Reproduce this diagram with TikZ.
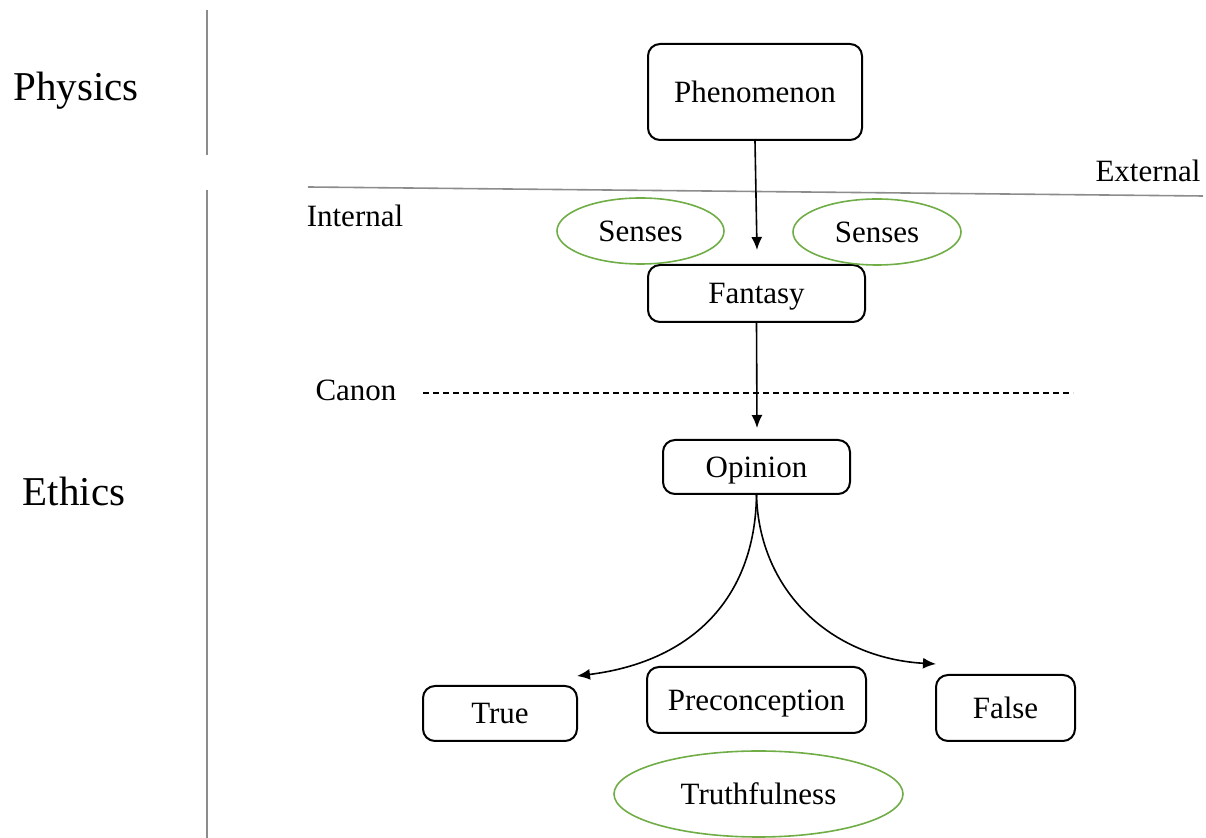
\documentclass[tikz,border=0pt]{standalone}
\usepackage{fontspec}
\setmainfont{Liberation Serif}
\usetikzlibrary{shapes.geometric,arrows.meta}
\definecolor{sensegreen}{HTML}{70AD47}
\definecolor{divgray}{HTML}{8C8C8C}
\tikzset{
  box/.style={draw, line width=1pt, rounded corners=6pt, inner sep=0pt, text depth=0pt, font=\fontsize{15.5}{18}\selectfont},
  sense/.style={draw=sensegreen, line width=0.8pt, ellipse, inner sep=0pt, text depth=0pt, font=\fontsize{15.5}{18}\selectfont},
  lbl/.style={inner sep=0pt, font=\fontsize{15.5}{18}\selectfont},
  big/.style={inner sep=0pt, font=\fontsize{20.5}{24}\selectfont},
  divider/.style={draw=divgray, line width=0.8pt},
  flow/.style={line width=0.8pt, -{Latex[length=6.5pt,width=5.5pt]}}
}
\begin{document}
\begin{tikzpicture}[x=0.5pt,y=-0.5pt]
\useasboundingbox (0,0) rectangle (1206,838);
% dividers
\coordinate (v1a) at (207,10); \coordinate (v1b) at (207,155);
\coordinate (v2a) at (207,190); \coordinate (v2b) at (207,838);
\draw[divider] (v1a) -- (v1b);
\draw[divider] (v2a) -- (v2b);
\coordinate (ha) at (308,187); \coordinate (hb) at (1203,196);
\draw[divider] (ha) -- (hb);
\coordinate (da) at (423,393); \coordinate (db) at (1073,393);
\draw[line width=0.7pt, dash pattern=on 3pt off 2pt] (da) -- (db);
% labels
\node[big] (physics) at (76,91) {Physics};
\node[big] (ethics) at (74,491) {Ethics};
\node[lbl] (external) at (1148,171) {External};
\node[lbl] (internal) at (355,216) {Internal};
\node[lbl] (canon) at (356,390) {Canon};
% boxes
\node[box, minimum width=107pt, minimum height=48pt] (phen) at (755,92) {Phenomenon};
\node[box, minimum width=108.5pt, minimum height=28.5pt] (fant) at (756.5,293.5) {Fantasy};
\node[box, minimum width=93.5pt, minimum height=27pt] (opin) at (756.5,467) {Opinion};
\node[box, minimum width=77pt, minimum height=27.5pt] (true) at (500,713.5) {True};
\node[box, minimum width=109.5pt, minimum height=33pt] (prec) at (756.5,700) {Preconception};
\node[box, minimum width=69.5pt, minimum height=33pt] (false) at (1005.5,708) {False};
% ellipses
\node[sense, minimum width=83.5pt, minimum height=33pt] (s1) at (640.5,231) {Senses};
\node[sense, minimum width=84pt, minimum height=33pt] (s2) at (877,232) {Senses};
\node[sense, minimum width=144.5pt, minimum height=43pt] (truth) at (758.5,794) {Truthfulness};
% connectors
\coordinate (a1) at (757,250);
\draw[flow] (phen.south) -- (a1);
\coordinate (a2) at (757,428);
\draw[flow] (fant.south) -- (a2);
\coordinate (tl) at (577,676);
\coordinate (tr) at (936,664);
\draw[flow] (opin.south) .. controls (755,600) and (690,662) .. (tl);
\draw[flow] (opin.south) .. controls (759,590) and (830,658) .. (tr);
\end{tikzpicture}
\end{document}
